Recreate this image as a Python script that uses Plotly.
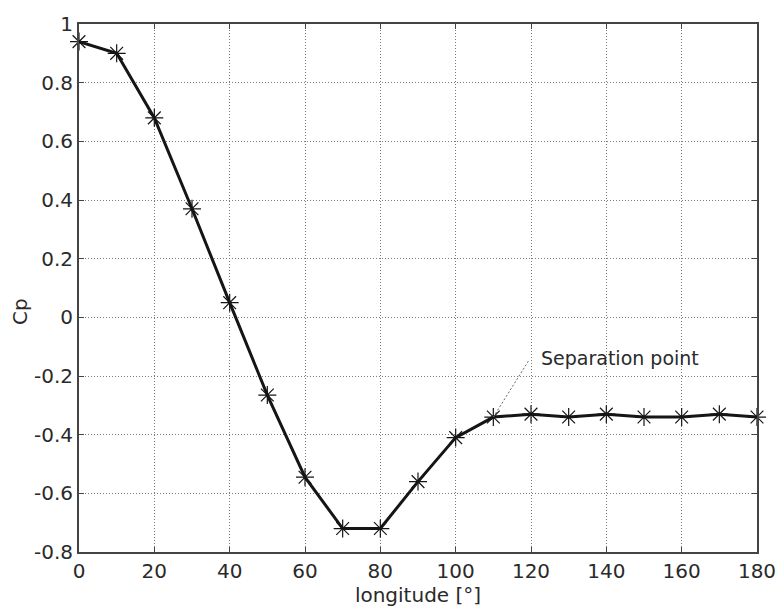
import plotly.graph_objects as go

longitude = [0, 10, 20, 30, 40, 50, 60, 70, 80, 90, 100, 110, 120, 130, 140, 150, 160, 170, 180]
cp = [0.94, 0.90, 0.68, 0.37, 0.05, -0.265, -0.545, -0.72, -0.72, -0.56, -0.41, -0.34, -0.33, -0.34, -0.33, -0.34, -0.34, -0.33, -0.34]

x_ticks = list(range(0, 181, 20))
y_ticks = [1, 0.8, 0.6, 0.4, 0.2, 0, -0.2, -0.4, -0.6, -0.8]
y_tick_text = ["1", "0.8", "0.6", "0.4", "0.2", "0", "-0.2", "-0.4", "-0.6", "-0.8"]

annot_text = "Separation point"
sep_index = 11
annot_line_end = (119.5, -0.145)
annot_text_pos = (122.2, -0.14)

FONT = "DejaVu Sans, Liberation Sans, Arial, sans-serif"
TXT = "#2a2a2a"

fig = go.Figure()
fig.add_trace(go.Scatter(
    x=longitude, y=cp, mode="lines+markers",
    line=dict(color="#151515", width=3),
    marker=dict(symbol="asterisk-open", size=15, color="#151515",
                line=dict(color="#151515", width=1.2)),
    showlegend=False, cliponaxis=False,
))

fig.add_shape(type="line", xref="x", yref="y",
              x0=longitude[sep_index], y0=cp[sep_index],
              x1=annot_line_end[0], y1=annot_line_end[1],
              line=dict(color="#666666", width=1, dash="2px,2px"))
fig.add_annotation(x=annot_text_pos[0], y=annot_text_pos[1], xref="x", yref="y",
                   text=annot_text, showarrow=False, xanchor="left", yanchor="middle",
                   font=dict(family=FONT, size=19, color=TXT))

# y-axis label
fig.add_annotation(x=0, y=0.4545, xref="paper", yref="paper", xshift=-59,
                   text="Cp", showarrow=False, textangle=-90,
                   xanchor="center", yanchor="middle",
                   font=dict(family=FONT, size=20, color=TXT))

axis_common = dict(
    showline=True, linecolor="#444444", linewidth=2, mirror="ticks",
    ticks="inside", ticklen=5, tickcolor="#444444",
    showgrid=True, gridcolor="#7a7a7a", gridwidth=1.2, griddash="1px,2px",
    zeroline=False, automargin=False, tickfont=dict(family=FONT, size=20, color=TXT),
)

fig.update_xaxes(range=[0, 180], tickvals=x_ticks,
                 title=dict(text="longitude [°]", font=dict(family=FONT, size=20, color=TXT), standoff=2),
                 **axis_common)
fig.update_yaxes(range=[-0.8, 1], tickvals=y_ticks, ticktext=y_tick_text,
                 **axis_common)

fig.update_layout(
    width=778, height=613,
    margin=dict(l=79, r=21, t=24, b=61, autoexpand=False),
    paper_bgcolor="white", plot_bgcolor="white",
)

fig.write_html("out.html")
